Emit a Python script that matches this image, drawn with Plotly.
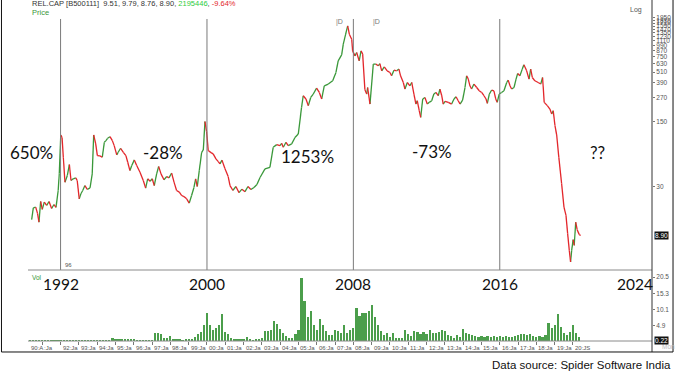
import plotly.graph_objects as go

# ---------------- data ----------------
price_years = [1990.42, 1990.51, 1990.64, 1990.74, 1990.82, 1990.91, 1991.00, 1991.11, 1991.24, 1991.37,
               1991.51, 1991.64, 1991.75, 1991.87, 1991.93, 1992.01, 1992.08, 1992.15, 1992.24, 1992.37,
               1992.48, 1992.57, 1992.69, 1992.83, 1992.91, 1993.02, 1993.11, 1993.21, 1993.33, 1993.46,
               1993.61, 1993.73, 1993.81, 1993.92, 1994.01, 1994.15, 1994.28, 1994.39, 1994.48, 1994.57,
               1994.70, 1994.83, 1994.93, 1995.07, 1995.15, 1995.28, 1995.43, 1995.57, 1995.67, 1995.79,
               1995.89, 1996.03, 1996.16, 1996.34, 1996.52, 1996.65, 1996.76, 1996.89, 1997.01, 1997.12,
               1997.25, 1997.36, 1997.49, 1997.65, 1997.80, 1997.92, 1998.07, 1998.20, 1998.34, 1998.49,
               1998.62, 1998.74, 1998.89, 1999.03, 1999.16, 1999.29, 1999.38, 1999.47, 1999.58, 1999.71,
               1999.80, 1999.89, 1999.98, 2000.07, 2000.22, 2000.34, 2000.49, 2000.62, 2000.71, 2000.82,
               2000.98, 2001.16, 2001.26, 2001.42, 2001.58, 2001.75, 2001.91, 2002.08, 2002.24, 2002.40,
               2002.57, 2002.73, 2002.90, 2003.17, 2003.44, 2003.62, 2003.81, 2003.99, 2004.08, 2004.17,
               2004.32, 2004.44, 2004.63, 2004.81, 2004.99, 2005.17, 2005.26, 2005.41, 2005.54, 2005.67,
               2005.81, 2005.99, 2006.14, 2006.27, 2006.41, 2006.63, 2006.87, 2007.05, 2007.17, 2007.36,
               2007.45, 2007.58, 2007.69, 2007.78, 2007.91, 2007.96, 2008.09, 2008.18, 2008.32, 2008.42,
               2008.51, 2008.63, 2008.73, 2008.78, 2008.91, 2009.09, 2009.23, 2009.36, 2009.45, 2009.55,
               2009.69, 2009.85, 2010.00, 2010.09, 2010.22, 2010.37, 2010.49, 2010.58, 2010.73, 2010.82,
               2010.95, 2011.09, 2011.19, 2011.31, 2011.42, 2011.49, 2011.60, 2011.68, 2011.79, 2011.91,
               2012.04, 2012.15, 2012.28, 2012.40, 2012.51, 2012.64, 2012.73, 2012.83, 2012.91, 2013.01,
               2013.19, 2013.37, 2013.50, 2013.61, 2013.73, 2013.83, 2013.97, 2014.10, 2014.19, 2014.28,
               2014.37, 2014.46, 2014.59, 2014.74, 2014.88, 2015.01, 2015.14, 2015.25, 2015.32, 2015.43,
               2015.56, 2015.68, 2015.78, 2015.86, 2015.97, 2016.10, 2016.23, 2016.38, 2016.46, 2016.56,
               2016.65, 2016.78, 2016.89, 2016.98, 2017.10, 2017.23, 2017.32, 2017.47, 2017.60, 2017.69,
               2017.78, 2017.92, 2018.10, 2018.24, 2018.34, 2018.43, 2018.60, 2018.74, 2018.84, 2018.92,
               2019.02, 2019.11, 2019.23, 2019.38, 2019.51, 2019.62, 2019.71, 2019.80, 2019.87, 2019.93,
               2020.01, 2020.07, 2020.15, 2020.23, 2020.34, 2020.42]

price_values = [13.2, 17.7, 18.0, 15.4, 12.4, 20.7, 17.0, 20.4, 18.8, 20.7,
                17.4, 19.2, 17.9, 27.2, 41.4, 107.5, 101, 61.9, 33.4, 39.4,
                51.7, 34.8, 36.3, 37.2, 34.8, 22.1, 25.1, 27.2, 30.7, 27.9,
                29.0, 41.0, 107.5, 86.1, 64.5, 64.0, 61.9, 89.6, 93.4, 98.9,
                103, 93.4, 82.6, 65.6, 70.0, 77.3, 70.0, 64.5, 54.7, 44.5,
                50.4, 58.0, 50.4, 42.7, 34.8, 28.8, 36.3, 34.2, 36.3, 30.7,
                41.0, 49.2, 41.0, 35.4, 38.4, 37.2, 41.7, 33.4, 27.2, 26.1,
                24.0, 23.4, 22.1, 19.9, 24.0, 29.3, 36.3, 30.0, 44.5, 70.0,
                74.2, 150, 116.7, 73.0, 69.4, 67.3, 59.5, 55.6, 52.5, 57.7,
                46.8, 38.4, 30.7, 27.2, 30.0, 25.8, 28.1, 26.4, 30.0, 27.9,
                29.3, 31.5, 37.5, 46.4, 48.3, 79.2, 84.6, 82.6, 87.4, 79.2,
                89.6, 82.6, 86.1, 101, 110, 213, 284, 262, 222, 272,
                296, 343, 308, 262, 363, 379, 411, 505, 673, 781,
                1017, 1302, 1599, 1302, 1151, 862, 762, 827, 673, 862,
                795, 329, 296, 348, 231, 621, 621, 596, 630, 526,
                581, 526, 505, 465, 535, 526, 549, 465, 394, 335,
                394, 363, 394, 296, 231, 251, 196, 166, 262, 272,
                231, 241, 251, 296, 308, 284, 335, 284, 231, 247,
                241, 231, 262, 277, 251, 231, 255, 348, 465, 429,
                363, 335, 379, 348, 321, 308, 284, 262, 235, 296,
                327, 321, 262, 241, 296, 308, 321, 394, 418, 363,
                335, 348, 429, 492, 465, 549, 610, 526, 429, 549,
                446, 411, 394, 379, 446, 241, 222, 204, 181, 196,
                135, 108, 61.4, 32.3, 18.0, 14.7, 9.33, 6.18, 4.63, 6.18,
                8.05, 6.99, 12.4, 10.3, 9.17, 8.90]

# bi-monthly volume (millions), first bar May 1990
vol_values = [0.2, 0.2, 0.2, 0.2,
              0.2, 0.2, 0.2, 0.2, 0.2, 0.2,
              0.3, 0.3, 0.2, 0.2, 0.2, 0.2,
              0.2, 0.2, 0.2, 0.2, 0.2, 0.2,
              0.3, 0.3, 0.3, 0.3, 0.3, 1.0,
              0.5, 0.6, 0.5, 0.6, 0.5, 0.6,
              0.5, 0.3, 0.2, 0.2, 0.2, 0.3,
              0.3, 2.4, 2.4, 2.0, 0.8, 1.0,
              1.5, 0.6, 0.5, 0.4, 0.3, 0.5,
              0.5, 0.7, 1.2, 2.0, 2.8, 5.0,
              9.0, 5.0, 3.5, 4.0, 5.0, 8.6,
              2.9, 2.2, 0.8, 0.4, 0.4, 0.5,
              0.5, 1.2, 0.4, 0.3, 0.4, 0.7,
              0.8, 3.2, 3.0, 3.5, 6.5, 5.5,
              3.8, 2.6, 1.6, 1.0, 0.9, 2.0,
              3.3, 20.1, 12.8, 7.5, 9.6, 5.2,
              3.5, 7.0, 5.0, 3.0, 1.9, 1.7,
              3.5, 3.0, 2.5, 5.0, 2.5, 3.5,
              4.0, 10.6, 8.0, 9.0, 9.0, 9.5,
              11.6, 7.5, 5.0, 3.0, 1.8, 2.4,
              1.3, 2.5, 0.8, 1.0, 0.8, 3.4,
              2.2, 1.5, 3.2, 2.9, 2.3, 2.9,
              2.2, 3.4, 2.5, 2.6, 2.9, 3.4,
              3.2, 1.8, 1.4, 1.0, 1.8, 1.3,
              3.7, 2.6, 2.0, 1.9, 1.4, 1.3,
              1.6, 1.1, 1.5, 1.1, 1.5, 1.1,
              1.5, 1.3, 1.5, 1.3, 1.1, 1.5,
              1.8, 2.0, 2.2, 1.7, 2.2, 1.5,
              1.1, 1.5, 1.3, 1.8, 5.8, 4.0,
              5.0, 8.5, 4.5, 2.6, 1.8, 2.9,
              5.0, 2.6, 1.1]
vol_first_year = 1990 + 4 / 12
vol_step = 2 / 12

period_marks = [1992, 2000, 2008, 2016]
period_labels = ["1992", "2000", "2008", "2016", "2024"]
period_label_years = [1992, 2000, 2008, 2016, 2023.4]
period_returns = ["650%", "-28%", "1253%", "-73%", "??"]

price_ticks = [30, 150, 270, 390, 510, 630, 750, 870, 990, 1110, 1230, 1350, 1470, 1590, 1710, 1830, 1950]
vol_ticks = [4.9, 10.1, 15.3, 20.5]
last_price = 8.90
last_vol = 0.22

x_tick_years = [1990.25, 1991, 1992, 1993, 1994, 1995, 1996, 1997, 1998, 1999, 2000, 2001, 2002, 2003, 2004,
                2005, 2006, 2007, 2008, 2009, 2010, 2011, 2012, 2013, 2014, 2015, 2016, 2017, 2018, 2019, 2020]
x_tick_text = ["90:A", ":Ja", "92:Ja", "93:Ja", "94:Ja", "95:Ja", "96:Ja", "97:Ja", "98:Ja", "99:Ja", "00:Ja",
               "01:Ja", "02:Ja", "03:Ja", "04:Ja", "05:Ja", "06:Ja", "07:Ja", "08:Ja", "09:Ja", "10:Ja",
               "11:Ja", "12:Ja", "13:Ja", "14:Ja", "15:Ja", "16:Ja", "17:Ja", "18:Ja", "19:Ja", "20:JS"]

# ---------------- figure ----------------
GREEN = "#3a983a"
RED = "#e3262b"
GRAY = "#555555"
PRICE_DOM = [0.2132, 1.0]
VOL_DOM = [0.0, 0.2132]

gx, gy, rx, ry = [], [], [], []
for i in range(1, len(price_years)):
    seg_x = [price_years[i - 1], price_years[i], None]
    seg_y = [price_values[i - 1], price_values[i], None]
    if price_values[i] >= price_values[i - 1]:
        gx += seg_x; gy += seg_y
    else:
        rx += seg_x; ry += seg_y

vol_years = [vol_first_year + i * vol_step for i in range(len(vol_values))]

fig = go.Figure()
fig.add_trace(go.Scatter(x=gx, y=gy, mode="lines", line=dict(color=GREEN, width=1.3),
                         xaxis="x", yaxis="y", hoverinfo="skip"))
fig.add_trace(go.Scatter(x=rx, y=ry, mode="lines", line=dict(color=RED, width=1.3),
                         xaxis="x", yaxis="y", hoverinfo="skip"))
fig.add_trace(go.Bar(x=vol_years, y=vol_values, width=0.12, marker=dict(color="#4b9e4b", line=dict(width=0)),
                     xaxis="x", yaxis="y2", hoverinfo="skip"))

shapes = []
for yr in period_marks:
    shapes.append(dict(type="line", xref="x", yref="paper", x0=yr, x1=yr, y0=0.2132, y1=0.967,
                       line=dict(color="#7a7a7a", width=1)))
shapes.append(dict(type="line", xref="paper", yref="paper", x0=0, x1=1, y0=0.2132, y1=0.2132,
                   line=dict(color="#8a8a8a", width=1)))
shapes.append(dict(type="line", xref="paper", yref="paper", x0=0, x1=1, y0=0.0, y1=0.0,
                   line=dict(color="#8a8a8a", width=1)))
shapes.append(dict(type="line", xref="paper", yref="paper", x0=1, x1=1, y0=-0.0330, y1=1.03,
                   line=dict(color="#333333", width=1)))
shapes.append(dict(type="line", xref="paper", yref="paper", x0=-0.0425, x1=-0.0425, y0=-0.0330, y1=1.03,
                   line=dict(color="#111111", width=1)))
shapes.append(dict(type="line", xref="paper", yref="paper", x0=1.0337, x1=1.0337, y0=-0.0330, y1=1.03,
                   line=dict(color="#111111", width=1)))
shapes.append(dict(type="line", xref="paper", yref="paper", x0=-0.0425, x1=1.0337, y0=-0.0330, y1=-0.0330,
                   line=dict(color="#111111", width=1)))

ann = []
ann.append(dict(xref="paper", yref="paper", x=0.003, y=1.0125, xanchor="left", yanchor="middle", showarrow=False,
                text="REL.CAP [B500111]  9.51, 9.79, 8.76, 8.90, <span style='color:#2ecc40'>2195446</span>, "
                     "<span style='color:#e3262b'>-9.64%</span>",
                font=dict(family="Liberation Sans, Arial", size=7.5, color="#333333")))
ann.append(dict(xref="paper", yref="paper", x=0.003, y=0.985, xanchor="left", yanchor="middle", showarrow=False,
                text="Price", font=dict(family="Liberation Sans, Arial", size=7.5, color=GREEN)))
ann.append(dict(xref="paper", yref="paper", x=0.975, y=0.995, xanchor="center", yanchor="middle", showarrow=False,
                text="Log", font=dict(family="Liberation Sans, Arial", size=7, color=GRAY)))
ann.append(dict(xref="paper", yref="paper", x=0.003, y=0.19, xanchor="left", yanchor="middle", showarrow=False,
                text="Vol", font=dict(family="Liberation Sans, Arial", size=6.5, color=GREEN)))
ann.append(dict(xref="paper", yref="paper", x=1.013, y=-0.017, xanchor="left", yanchor="middle", showarrow=False,
                text="Mon", font=dict(family="Liberation Sans, Arial", size=6.5, color="#bbbbbb")))
ann.append(dict(xref="paper", yref="paper", x=0.056, y=0.228, xanchor="left", yanchor="middle", showarrow=False,
                text="96", font=dict(family="Liberation Sans, Arial", size=6, color=GRAY)))
for xd in [0.4903, 0.5497]:
    ann.append(dict(xref="paper", yref="paper", x=xd, y=0.958, xanchor="left", yanchor="middle", showarrow=False,
                    text="|D", font=dict(family="Liberation Sans, Arial", size=7, color="#777777")))

ret_pos = [(0.0064, 0.5646), (0.2163, 0.5646), (0.4487, 0.5526), (0.6474, 0.5676), (0.9119, 0.5646)]
for (px, py), t in zip(ret_pos, period_returns):
    ann.append(dict(xref="paper", yref="paper", x=px, y=py, xanchor="center", yanchor="middle", showarrow=False,
                    text=t, font=dict(family="Lato, Open Sans, sans-serif", size=17, color="#111111")))
for yr, t in zip(period_label_years, period_labels):
    ann.append(dict(xref="x", yref="paper", x=yr, y=0.1712, xanchor="center", yanchor="middle", showarrow=False,
                    text=t, font=dict(family="Lato, Open Sans, sans-serif", size=15.5, color="#111111")))
for yr, t in zip(x_tick_years, x_tick_text):
    ann.append(dict(xref="x", yref="paper", x=yr, y=-0.021, xanchor="left", yanchor="middle", showarrow=False,
                    text=t, font=dict(family="Liberation Sans, Arial", size=6, color=GRAY)))
ann.append(dict(xref="paper", x=1.004, yref="y", y=0.9494, xanchor="left", yanchor="middle", showarrow=False,
                text=f"{last_price:.2f}", bgcolor="#111111", borderpad=0,
                font=dict(family="Liberation Sans, Arial", size=6.5, color="white")))
ann.append(dict(xref="paper", x=1.004, yref="y2", y=last_vol, xanchor="left", yanchor="middle", showarrow=False,
                text=f"{last_vol:.2f}", bgcolor="#111111", borderpad=0,
                font=dict(family="Liberation Sans, Arial", size=6.5, color="white")))
ann.append(dict(xref="paper", yref="paper", x=1.0337, y=-0.072, xanchor="right", yanchor="middle", showarrow=False,
                text="Data source: Spider Software India",
                font=dict(family="Liberation Sans, Arial", size=11.5, color="#111111")))

fig.update_layout(
    width=675, height=377,
    margin=dict(l=28, r=23, t=8, b=36),
    plot_bgcolor="white", paper_bgcolor="white",
    showlegend=False, bargap=0,
    xaxis=dict(range=[1990.22, 2024.32], anchor="y2", showgrid=False, zeroline=False, showline=False,
               ticks="outside", ticklen=3, tickcolor="#777777", tickvals=x_tick_years[1:],
               showticklabels=False),
    yaxis=dict(type="log", domain=PRICE_DOM, range=[0.5793, 3.3965], side="right", anchor="x",
               tickvals=price_ticks, ticktext=[str(v) for v in price_ticks],
               tickfont=dict(family="Liberation Sans, Arial", size=6.5, color=GRAY),
               ticks="outside", ticklen=2, tickcolor="#777777", showgrid=False, zeroline=False, showline=False,
               automargin=False),
    yaxis2=dict(domain=VOL_DOM, range=[-0.1, 22.8], side="right", anchor="x",
                tickvals=vol_ticks, ticktext=[str(v) for v in vol_ticks],
                tickfont=dict(family="Liberation Sans, Arial", size=6.5, color=GRAY),
                ticks="outside", ticklen=2, tickcolor="#777777", showgrid=False, zeroline=False, showline=False,
                automargin=False),
    shapes=shapes,
    annotations=ann,
)

fig.write_html("out.html", config={"displayModeBar": False, "staticPlot": True},
               post_script="document.body.style.margin='0';document.body.style.padding='0';")
